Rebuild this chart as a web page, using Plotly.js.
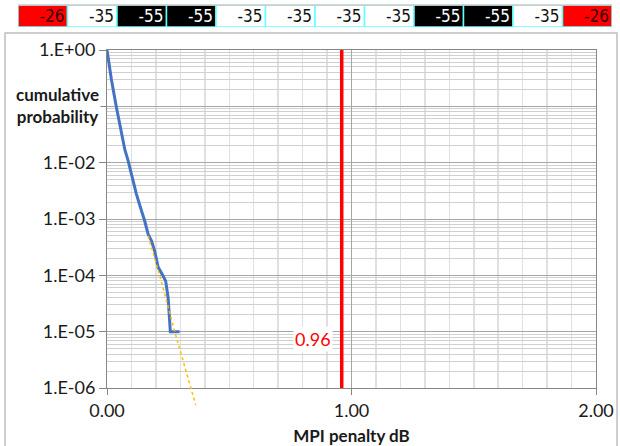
<!DOCTYPE html>
<html><head><meta charset="utf-8">
<script src="https://cdn.plot.ly/plotly-3.0.1.min.js"></script>
<style>html,body{margin:0;padding:0;background:#fff}#chart{width:620px;height:446px}</style>
</head><body><div id="chart"></div>
<script>
// ---- data ----
const cellValues = [-26, -35, -55, -55, -35, -35, -35, -35, -55, -55, -35, -26];
const penaltyDb = [0, 0.005, 0.018, 0.038, 0.059, 0.073, 0.086, 0.100, 0.120, 0.141, 0.154, 0.168, 0.182, 0.195, 0.209, 0.229, 0.240, 0.250, 0.256, 0.259, 0.259, 0.297];
const cumulativeProb = [1, 7.1e-1, 3.0e-1, 9.8e-2, 3.7e-2, 1.7e-2, 1.1e-2, 6.3e-3, 2.8e-3, 1.4e-3, 9.3e-4, 5.4e-4, 4.1e-4, 2.7e-4, 1.4e-4, 9.8e-5, 7.9e-5, 4.0e-5, 2.0e-5, 1.4e-5, 1e-5, 1e-5];
const fitPenaltyDb = [0.168, 0.222, 0.277, 0.345, 0.363];
const fitProb = [5e-4, 7.9e-5, 1e-5, 1e-6, 5e-7];
const thresholdDb = 0.96;
const xTickVals = [0, 1, 2];
const yTickVals = [1e-6, 1e-5, 1e-4, 1e-3, 1e-2, 1e-1, 1];
// 1.E-01 is hidden behind the axis title in the reference
const yTickText = ['1.E-06', '1.E-05', '1.E-04', '1.E-03', '1.E-02', '', '1.E+00'];

// ---- layout helpers ----
const W = 620, H = 446;
const fx = v => v / W, fy = v => 1 - v / H;
const P = {l: 107, r: 596, t: 50, b: 388};
const fitBottom = 410;
const cellFill = {'-26': '#ff0000', '-35': '#ffffff', '-55': '#000000'};
const cellText = {'-26': '#3a0000', '-35': '#111111', '-55': '#ffffff'};
const FONT = 'Lato, "Open Sans", sans-serif';

const minorY = [];
for (let e = -6; e < 0; e++) for (let d = 2; d <= 9; d++) minorY.push(d * Math.pow(10, e));

const traces = [
  {
    type: 'scatter', mode: 'lines', x: penaltyDb, y: cumulativeProb, xaxis: 'x', yaxis: 'y',
    line: {color: '#4472c4', width: 3}, hoverinfo: 'skip'
  },
  {
    type: 'scatter', mode: 'lines', x: [thresholdDb, thresholdDb], y: [yTickVals[0], yTickVals[yTickVals.length - 1]],
    xaxis: 'x', yaxis: 'y', line: {color: '#ff0000', width: 3.5}, hoverinfo: 'skip'
  },
  {
    type: 'bar', orientation: 'h', y: cellValues.map(() => 0), x: cellValues.map(() => 1),
    base: cellValues.map((v, i) => i), width: 1, xaxis: 'x2', yaxis: 'y2',
    text: cellValues.map(String), textposition: 'inside', insidetextanchor: 'end', textangle: 0,
    constraintext: 'none',
    textfont: {family: '"Liberation Sans Narrow", "DejaVu Sans Condensed", "Liberation Sans", sans-serif', size: 17,
      color: cellValues.map(v => cellText[String(v)])},
    marker: {color: cellValues.map(v => cellFill[String(v)]), line: {color: '#66ffff', width: 1.5}},
    hoverinfo: 'skip'
  },
  {
    type: 'scatter', mode: 'lines', x: fitPenaltyDb, y: fitProb, xaxis: 'x3', yaxis: 'y3',
    line: {color: '#ffc000', width: 1.5, dash: 'dot'}, hoverinfo: 'skip'
  }
];

const yRange = [Math.log10(yTickVals[0]), Math.log10(yTickVals[yTickVals.length - 1])];
const y3Low = yRange[0] - (yRange[1] - yRange[0]) * (fitBottom - P.b) / (P.b - P.t);

const layout = {
  width: W, height: H, margin: {l: 0, r: 0, t: 0, b: 0},
  paper_bgcolor: '#ffffff', plot_bgcolor: 'rgba(0,0,0,0)',
  showlegend: false, font: {family: FONT, color: '#1a1a1a'},
  xaxis: {
    domain: [fx(P.l), fx(P.r)], range: [0, 2], anchor: 'y', automargin: false,
    tickmode: 'array', tickvals: xTickVals, ticktext: xTickVals.map(v => v.toFixed(2)),
    ticks: 'outside', ticklen: 6, tickcolor: '#868686', tickwidth: 1,
    showline: true, linecolor: '#868686', linewidth: 1, mirror: true, zeroline: false,
    showgrid: true, gridcolor: '#a6a6a6', gridwidth: 1,
    minor: {dtick: 0.1, tick0: 0, showgrid: true, gridcolor: '#e0e0e0', gridwidth: 1.5, ticks: ''},
    tickfont: {family: FONT, size: 18, color: '#1a1a1a'},
    title: {text: 'MPI penalty dB', font: {family: FONT, size: 17, weight: 700, color: '#1a1a1a'}, standoff: 10}
  },
  yaxis: {
    type: 'log', domain: [fy(P.b), fy(P.t)], range: yRange, anchor: 'x', automargin: false,
    tickmode: 'array', tickvals: yTickVals, ticktext: yTickText,
    ticks: 'outside', ticklen: 7, tickcolor: '#868686', tickwidth: 1,
    showline: true, linecolor: '#868686', linewidth: 1, mirror: true, zeroline: false,
    showgrid: true, gridcolor: '#a6a6a6', gridwidth: 1,
    minor: {tickmode: 'array', tickvals: minorY, showgrid: true, gridcolor: '#d0d0d0', gridwidth: 1, ticks: ''},
    tickfont: {family: FONT, size: 18, color: '#1a1a1a'}
  },
  xaxis2: {domain: [fx(18), fx(612)], range: [0, cellValues.length], anchor: 'y2', visible: false, fixedrange: true},
  yaxis2: {domain: [fy(27), fy(5)], range: [-0.5, 0.5], anchor: 'x2', visible: false, fixedrange: true},
  xaxis3: {domain: [fx(P.l), fx(P.r)], range: [0, 2], anchor: 'y3', visible: false},
  yaxis3: {type: 'log', domain: [fy(fitBottom), fy(P.t)], range: [y3Low, yRange[1]], anchor: 'x3', visible: false},
  shapes: [
    {type: 'rect', xref: 'paper', yref: 'paper', x0: fx(5), x1: fx(617), y0: fy(447), y1: fy(33),
      line: {color: '#bfbfbf', width: 1.5}, fillcolor: 'rgba(0,0,0,0)', layer: 'below'},
    {type: 'line', xref: 'paper', yref: 'paper', x0: fx(18), x1: fx(612), y0: fy(5), y1: fy(5),
      line: {color: '#c8c8c8', width: 1.5}}
  ],
  annotations: [
    {xref: 'paper', yref: 'paper', x: fx(57), y: fy(105), xanchor: 'center', yanchor: 'middle',
      text: 'cumulative<br>probability', showarrow: false, bgcolor: '#ffffff', align: 'center',
      font: {family: FONT, size: 17, weight: 700, color: '#1a1a1a'}},
    {xref: 'x', yref: 'y', x: thresholdDb, y: -5.13, xanchor: 'right', yanchor: 'middle', xshift: -9,
      text: thresholdDb.toFixed(2), showarrow: false, bgcolor: '#ffffff',
      font: {family: FONT, size: 18, color: '#ff0000'}}
  ]
};

Plotly.newPlot('chart', traces, layout, {displayModeBar: false, staticPlot: true});
</script>
</body></html>
